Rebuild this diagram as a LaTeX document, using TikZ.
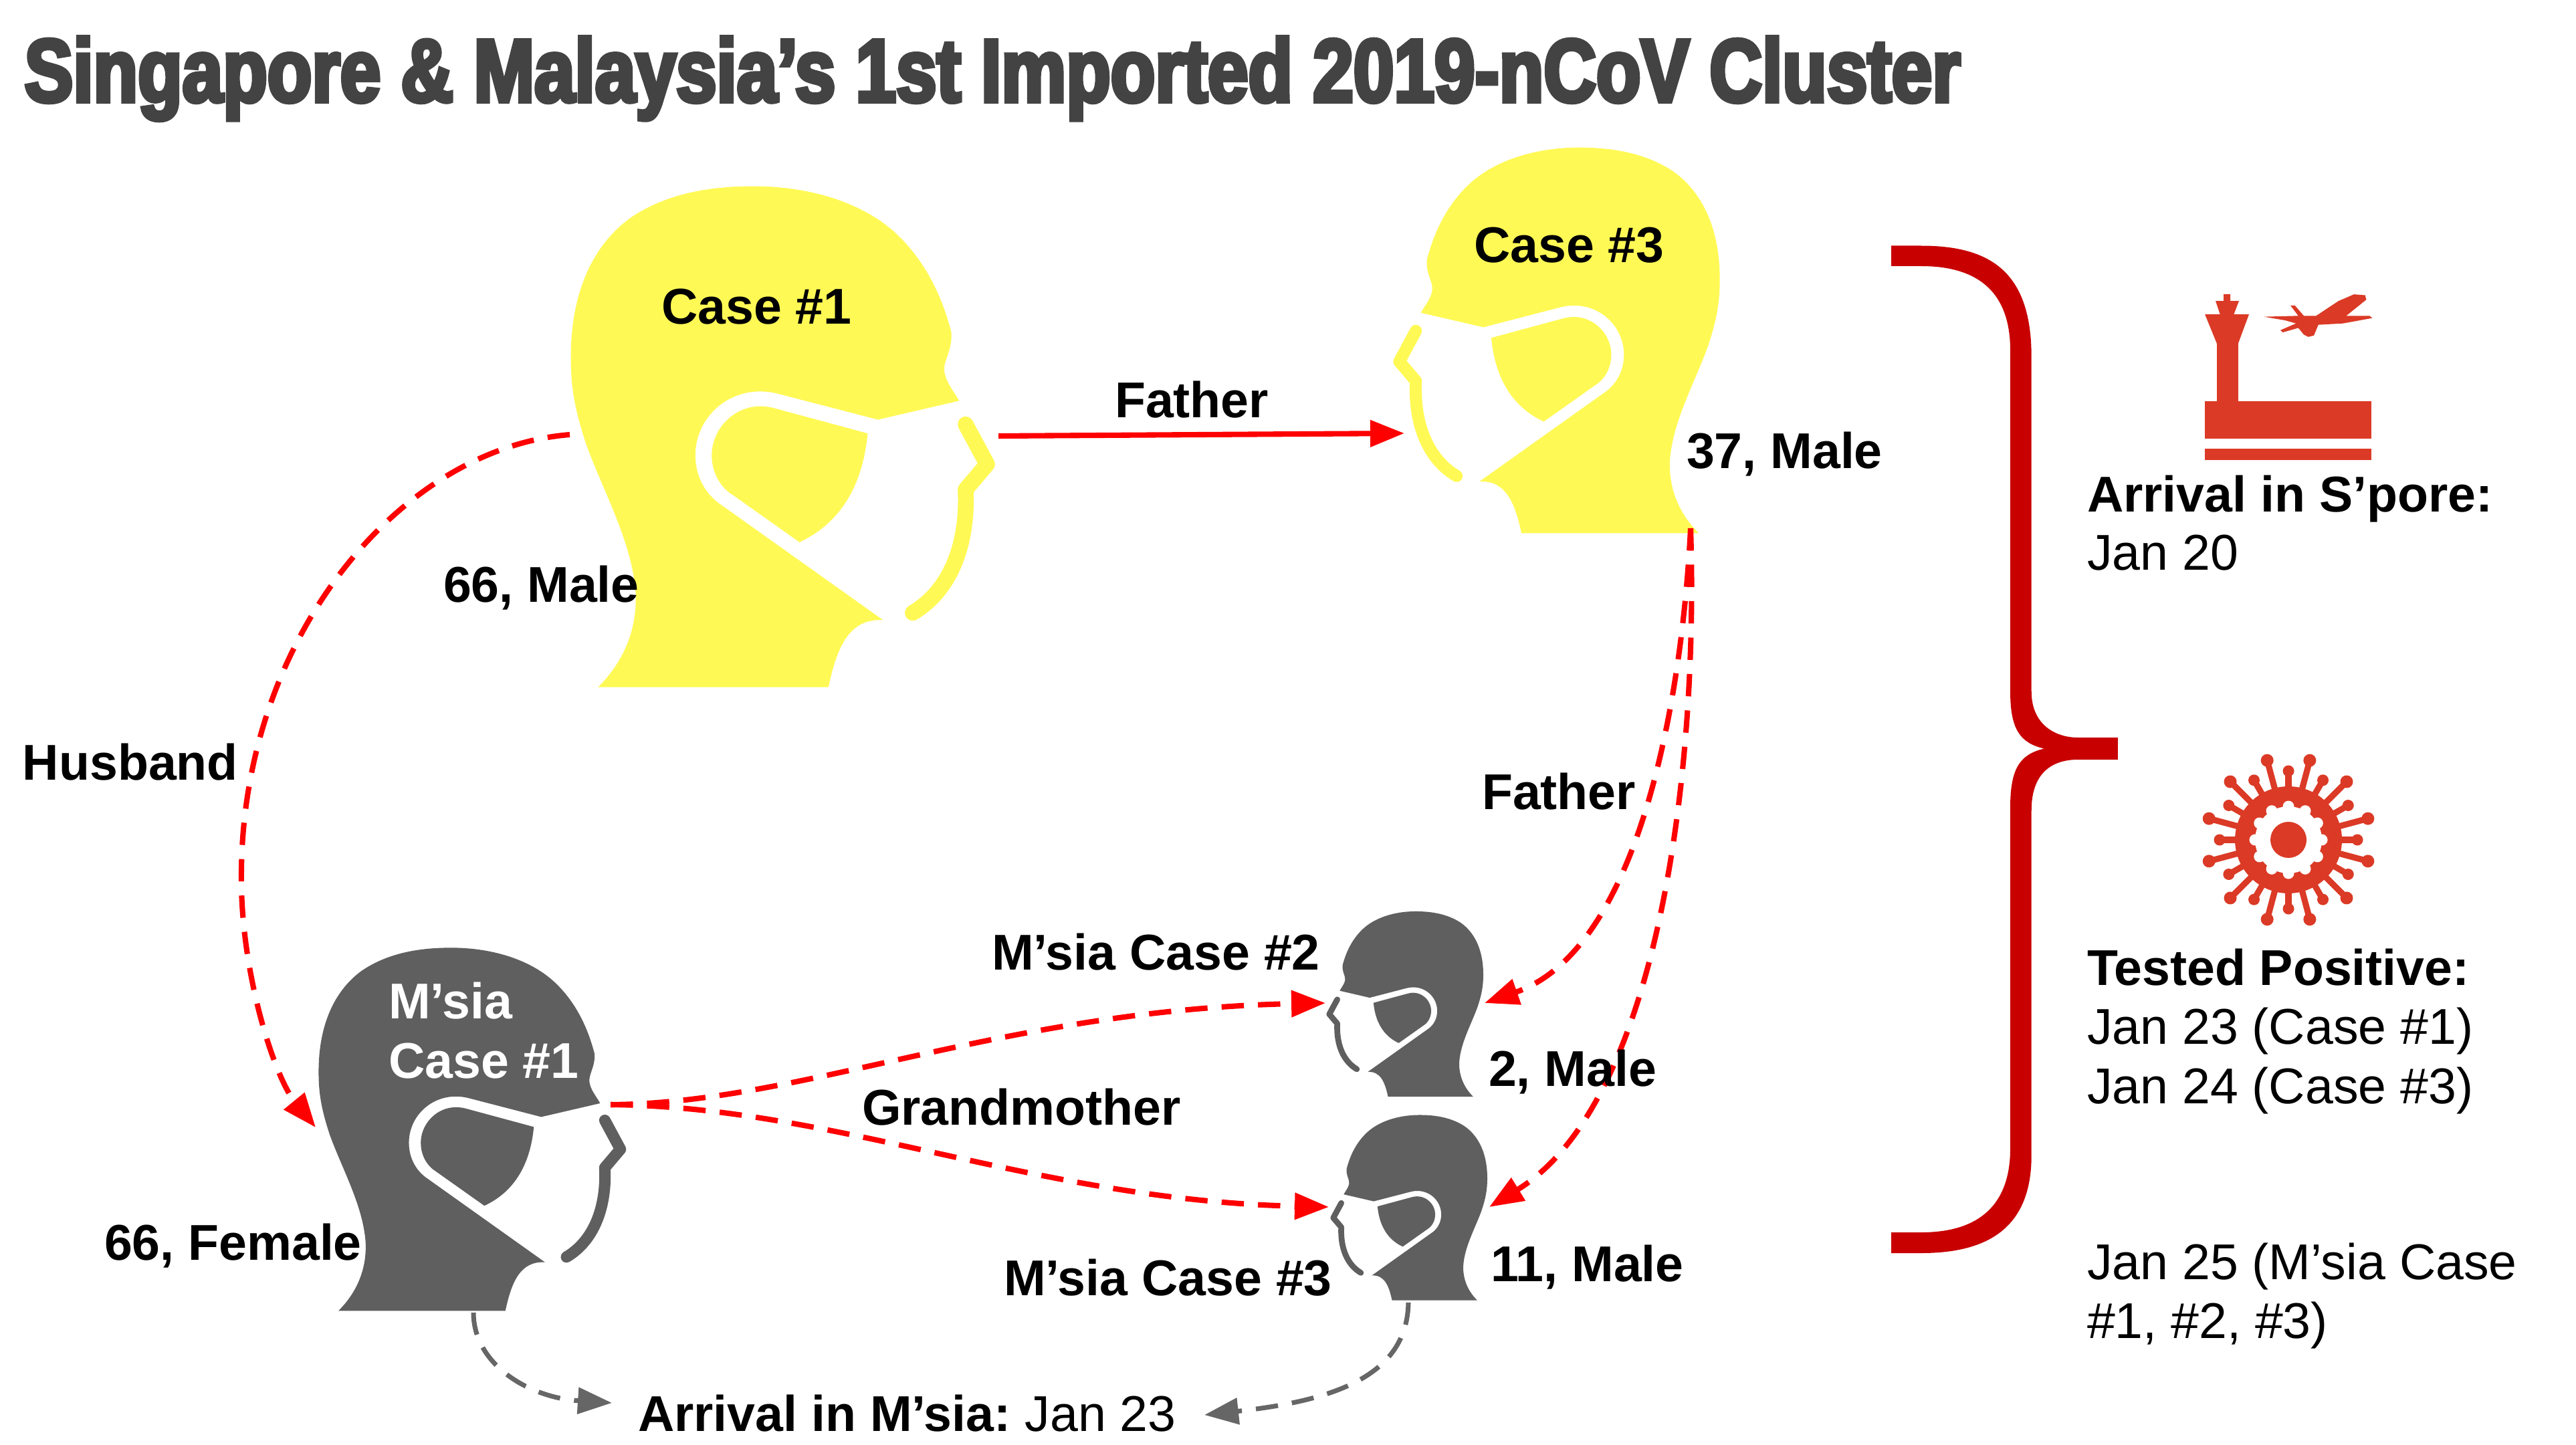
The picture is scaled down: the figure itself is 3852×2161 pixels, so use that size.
\documentclass[tikz,border=0pt]{standalone}
\usepackage{fontspec}
\usetikzlibrary{arrows.meta}
\setmainfont{Liberation Sans}
\newfontfamily\titlefont[UprightFont=* Bold,FakeBold=4.5,FakeStretch=0.815]{Liberation Sans}
\definecolor{headyellow}{HTML}{FFF955}
\definecolor{headgrey}{HTML}{5F5F5F}
\definecolor{titlegrey}{HTML}{434343}
\definecolor{iconred}{HTML}{DB3A26}
\definecolor{bracered}{HTML}{C80000}
\definecolor{arrowgrey}{HTML}{666666}
\tikzset{
  lbl/.style={font=\bfseries\fontsize{21.4}{24}\selectfont,anchor=base west,inner sep=0pt,outer sep=0pt,text=black},
  txt/.style={font=\fontsize{21.4}{24}\selectfont,anchor=base west,inner sep=0pt,outer sep=0pt,text=black},
  redsolid/.style={draw=red,line width=2.3pt,-{Triangle[length=14.5pt,width=11pt]}},
  reddash/.style={redsolid,dash pattern=on 9.5pt off 6pt},
  greydash/.style={draw=arrowgrey,line width=2pt,dash pattern=on 9.5pt off 6pt,-{Triangle[length=14.5pt,width=11pt]}}
}
\newcommand{\headshape}[5]{%
  \pgfmathsetmacro{\hlw}{#3*23.5*0.2845}
  \begin{scope}[shift={(#1,#2)},xscale={#4*#3/1.96},yscale={#3/1.845}]
    \fill[#5] (185,1490) .. controls (260,1420) and (300,1330) .. (295,1230)
      .. controls (285,1090) and (200,950) .. (150,820)
      .. controls (115,720) and (105,660) .. (105,580)
      .. controls (105,400) and (170,270) .. (280,195)
      .. controls (390,125) and (520,108) .. (640,108)
      .. controls (820,108) and (970,160) .. (1060,240)
      .. controls (1150,320) and (1195,420) .. (1220,510)
      .. controls (1225,560) and (1195,590) .. (1200,620)
      .. controls (1205,650) and (1225,670) .. (1243,700)
      -- (1005,752) -- (710,680)
      .. controls (580,650) and (470,740) .. (470,850)
      .. controls (470,910) and (500,960) .. (550,990)
      -- (1020,1305)
      .. controls (920,1300) and (885,1380) .. (860,1490) -- cycle;
    \fill[#5] (975,790) -- (700,720)
      .. controls (600,695) and (518,770) .. (518,850)
      .. controls (518,900) and (545,940) .. (580,960)
      -- (775,1090)
      .. controls (890,1040) and (960,940) .. (975,790) -- cycle;
    \draw[#5,line width=\hlw pt,line cap=round,line join=round]
      (1262,765) -- (1325,875) -- (1262,945)
      .. controls (1270,1100) and (1215,1225) .. (1107,1285);
  \end{scope}}
\begin{document}
\begin{tikzpicture}[x=0.01cm,y=-0.01cm]
\useasboundingbox (0,0) rectangle (3852,2161);
% heads
\headshape{800}{220}{1}{1}{headyellow}
\headshape{2612.9}{175.6}{0.77}{-1}{headyellow}
\headshape{437.6}{1374.9}{0.725}{1}{headgrey}
\headshape{2237.8}{1341.3}{0.37}{-1}{headgrey}
\headshape{2243.8}{1645.8}{0.37}{-1}{headgrey}
% title
\node[anchor=base west,inner sep=0pt,text=titlegrey,font=\titlefont\fontsize{38}{48}\selectfont] (title) at (36,152) {Singapore \& Malaysia’s 1st Imported 2019-nCoV Cluster};
% connector ends
\coordinate (c1back) at (852,650);
\coordinate (m1back) at (472,1686);
\coordinate (c1front) at (1493,652);
\coordinate (c3front) at (2100,648);
\coordinate (c3neck) at (2528,790);
\coordinate (m2back) at (2220,1500);
\coordinate (m3back) at (2227,1805);
\coordinate (m1front) at (913,1652);
\coordinate (m2front) at (1982,1500);
\coordinate (m3front) at (1987,1805);
\coordinate (m1base) at (708,1963);
\coordinate (m3base) at (2106,1948);
\coordinate (arrL) at (915,2098);
\coordinate (arrR) at (1801,2116);
% connectors
\draw[redsolid] (c1front) -- (c3front);
\draw[reddash] (c1back) .. controls (600,670) and (365,950) .. (361,1301) .. controls (358,1450) and (410,1610) .. (m1back);
\draw[reddash] (c3neck) .. controls (2515,1050) and (2450,1420) .. (m2back);
\draw[reddash] (c3neck) .. controls (2540,1150) and (2480,1650) .. (m3back);
\draw[reddash] (m1front) .. controls (1200,1650) and (1500,1510) .. (m2front);
\draw[reddash] (m1front) .. controls (1250,1655) and (1550,1795) .. (m3front);
\draw[greydash] (m1base) .. controls (708,2040) and (790,2090) .. (arrL);
\draw[greydash] (m3base) .. controls (2104,2060) and (1990,2095) .. (arrR);
% brace
\fill[bracered] (2828,367.5) -- (2873,367.5) .. controls (2980,367.5) and (3037.7,410) .. (3037.7,534)
  -- (3037.7,1034) .. controls (3037.7,1085) and (3075,1103) .. (3107,1103)
  -- (3166.7,1103) -- (3166.7,1136) -- (3107,1136)
  .. controls (3075,1136) and (3037.7,1150) .. (3037.7,1212)
  -- (3037.7,1728) .. controls (3037.7,1830) and (2980,1874) .. (2873,1874)
  -- (2828,1874) -- (2828,1843) -- (2873,1843)
  .. controls (2950,1843) and (3006,1810) .. (3006,1717.5)
  -- (3006,1207) .. controls (3006,1150) and (3020,1128) .. (3056.7,1119.6)
  .. controls (3020,1111) and (3006,1090) .. (3006,1034)
  -- (3006,524) .. controls (3006,430) and (2950,398) .. (2873,398)
  -- (2828,398) -- cycle;
% airport icon
\fill[iconred] (3297,599.6) rectangle (3546,655.8);
\fill[iconred] (3297,671) rectangle (3546,688);
\fill[iconred] (3315,600) -- (3315,514) -- (3297,470) -- (3363,470) -- (3346.7,514) -- (3346.7,600) -- cycle;
\fill[iconred] (3320,471) -- (3313,450) -- (3325,450) -- (3325,440) -- (3335,440) -- (3335,450) -- (3348,450) -- (3340,471) -- cycle;
\begin{scope}[shift={(3250,400)},xscale={1/3},yscale={1/1.4933}]
\fill[iconred] (405,110) -- (560,108) -- (525,85) -- (545,85) -- (585,108) -- (640,108) -- (740,75) -- (810,60) -- (860,62) -- (865,72) -- (775,108) -- (880,108) -- (892,113) -- (760,125) -- (650,128) -- (630,152) -- (605,155) -- (585,150) -- (560,135) -- (490,145) -- (480,140) -- (550,125) -- (500,118) -- cycle;
\end{scope}
% virus icon
\foreach \a in {15,45,...,345}{
  \draw[iconred,line width=2.6pt] (3422,1256) -- ({3422+123*cos(\a)},{1256-123*sin(\a)});
  \fill[iconred] ({3422+123*cos(\a)},{1256-123*sin(\a)}) circle[radius=9.5];
}
\foreach \a in {0,30,...,330}{
  \draw[iconred,line width=2.6pt] (3422,1256) -- ({3422+103*cos(\a)},{1256-103*sin(\a)});
  \fill[iconred] ({3422+103*cos(\a)},{1256-103*sin(\a)}) circle[radius=8.5];
}
\fill[iconred] (3422,1256) circle[radius=80];
\fill[white] (3422,1256) circle[radius=50];
\foreach \a in {0,30,...,330}{
  \fill[white] ({3422+50*cos(\a)},{1256-50*sin(\a)}) circle[radius=8.5];
}
\fill[iconred] (3422,1256) circle[radius=27];
% labels
\node[lbl] (lc1) at (989,484) {Case \#1};
\node[lbl] (lc1age) at (663,900) {66, Male};
\node[lbl] (lfather) at (1667,624) {Father};
\node[lbl] (lc3) at (2204,393) {Case \#3};
\node[lbl] (lc3age) at (2522,700) {37, Male};
\node[lbl] (lhusband) at (34,1166) {Husband};
\node[lbl] (lfather2) at (2216,1210) {Father};
\node[lbl] (lm2) at (1483,1450) {M’sia Case \#2};
\node[lbl] (lm2age) at (2226,1624) {2, Male};
\node[lbl] (lgrand) at (1289,1682) {Grandmother};
\node[lbl] (lm3age) at (2229,1916) {11, Male};
\node[lbl] (lm3) at (1501,1937) {M’sia Case \#3};
\node[lbl] (lm1age) at (156,1884) {66, Female};
\node[lbl,text=white] (lm1a) at (581,1523) {M’sia};
\node[lbl,text=white] (lm1b) at (581,1612) {Case \#1};
\node[lbl] (larr) at (954,2140) {Arrival in M’sia:};
\node[txt,anchor=base west] (ljan) at (larr.base east) {\ Jan 23};
\node[lbl] (rt1) at (3121,765) {Arrival in S’pore:};
\node[txt] (rt2) at (3121,852) {Jan 20};
\node[lbl] (rt3) at (3121,1473) {Tested Positive:};
\node[txt] (rt4) at (3121,1561) {Jan 23 (Case \#1)};
\node[txt] (rt5) at (3121,1650) {Jan 24 (Case \#3)};
\node[txt] (rt6) at (3121,1913) {Jan 25 (M’sia Case};
\node[txt] (rt7) at (3121,2001) {\#1, \#2, \#3)};
\end{tikzpicture}
\end{document}
